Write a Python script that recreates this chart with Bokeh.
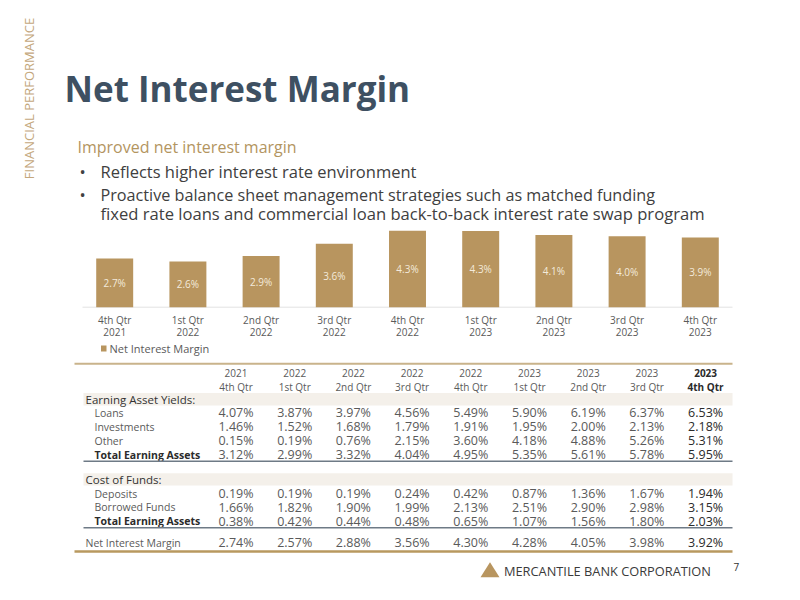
import math
from bokeh.plotting import figure
from bokeh.models import Range1d
from bokeh.embed import file_html
from bokeh.resources import INLINE
from bokeh.core.properties import value

# ---------------- data ----------------
quarters = ["4th Qtr", "1st Qtr", "2nd Qtr", "3rd Qtr", "4th Qtr", "1st Qtr", "2nd Qtr", "3rd Qtr", "4th Qtr"]
years = ["2021", "2022", "2022", "2022", "2022", "2023", "2023", "2023", "2023"]
nim = [2.74, 2.57, 2.88, 3.56, 4.30, 4.28, 4.05, 3.98, 3.92]
nim_labels = ["2.7%", "2.6%", "2.9%", "3.6%", "4.3%", "4.3%", "4.1%", "4.0%", "3.9%"]

loans = [4.07, 3.87, 3.97, 4.56, 5.49, 5.90, 6.19, 6.37, 6.53]
investments = [1.46, 1.52, 1.68, 1.79, 1.91, 1.95, 2.00, 2.13, 2.18]
other = [0.15, 0.19, 0.76, 2.15, 3.60, 4.18, 4.88, 5.26, 5.31]
total_yield = [3.12, 2.99, 3.32, 4.04, 4.95, 5.35, 5.61, 5.78, 5.95]
deposits = [0.19, 0.19, 0.19, 0.24, 0.42, 0.87, 1.36, 1.67, 1.94]
borrowed = [1.66, 1.82, 1.90, 1.99, 2.13, 2.51, 2.90, 2.98, 3.15]
total_cost = [0.38, 0.42, 0.44, 0.48, 0.65, 1.07, 1.56, 1.80, 2.03]
nim_table = [2.74, 2.57, 2.88, 3.56, 4.30, 4.28, 4.05, 3.98, 3.92]

# ---------------- styles ----------------
FONT = value("Open Sans")
GOLD = "#B8955F"
TITLE = "#3E5062"
DARK = "#2b2b2b"
GRAY = "#5a5a5a"

W, H = 784, 584
OX, OY = 0, 0
p = figure(width=W, height=H, x_range=Range1d(OX, OX + W), y_range=Range1d(OY + H, OY),
           output_backend="svg", toolbar_location=None, min_border=0,
           x_axis_location=None, y_axis_location=None)
p.outline_line_color = None
p.grid.visible = False
p.title.visible = False
p.background_fill_color = "white"
p.border_fill_color = "white"

# bar chart scales: index -> x, value -> y
bx0, bstep = 114.2, 73.2
p.extra_x_ranges["bx"] = Range1d(-(bx0 - OX) / bstep, (OX + W - bx0) / bstep)
by0, bscale = 306.7, 17.8
p.extra_y_ranges["by"] = Range1d(-(OY + H - by0) / bscale, (by0 - OY) / bscale)
# table columns: index -> x
tx0, tstep = 235.5, 58.7
p.extra_x_ranges["tx"] = Range1d(-(tx0 - OX) / tstep, (OX + W - tx0) / tstep)


def txt(x, y, s, size, color, align="left", baseline="middle", style="normal",
        angle=0.0, xr="default", yr="default"):
    if not isinstance(x, list):
        x, y, s = [x], [y], [s]
    p.text(x=x, y=y, text=s, text_font=FONT, text_font_size=size, text_color=color,
           text_align=align, text_baseline=baseline, text_font_style=style, angle=angle,
           x_range_name=xr, y_range_name=yr)


# ---------------- header ----------------
txt(28, 98, "FINANCIAL PERFORMANCE", "13px", "#C4A77C", align="center", angle=math.pi / 2)
txt(64, 88, "Net Interest Margin", "35px", TITLE, style="bold")
txt(77, 146, "Improved net interest margin", "16px", "#B3955F")
BUL = "16.5px"
txt(79, 171, "•", BUL, "#404040")
txt(100, 171, "Reflects higher interest rate environment", BUL, "#404040")
txt(79, 194, "•", BUL, "#404040")
txt(100, 194, "Proactive balance sheet management strategies such as matched funding", "16.2px", "#404040")
txt(100, 212.5, "fixed rate loans and commercial loan back-to-back interest rate swap program", "16.6px", "#404040")

# ---------------- bar chart ----------------
idx = list(range(len(nim)))
p.segment(x0=[82], y0=[by0], x1=[732], y1=[by0], line_color="#e3e3e3", line_width=1)
p.vbar(x=idx, top=nim, bottom=0, width=0.505, fill_color=GOLD, line_color=None,
       x_range_name="bx", y_range_name="by")
txt(idx, [v / 2 for v in nim], nim_labels, "10px", "#F3EADB", align="center",
    xr="bx", yr="by")
txt(idx, [319.5] * len(idx), quarters, "10px", GRAY, align="center", xr="bx")
txt(idx, [331] * len(idx), years, "10px", GRAY, align="center", xr="bx")
p.quad(left=[100.5], right=[106], top=[345], bottom=[351], fill_color=GOLD, line_color=None)
txt(109, 348, "Net Interest Margin", "11px", GRAY)

# ---------------- table ----------------
L, R = 74, 732
p.segment(x0=[L], y0=[363.3], x1=[R], y1=[363.3], line_color="#C9B38B", line_width=2)
p.quad(left=[83, 83], right=[R, R], top=[392.5, 472.7], bottom=[405, 485],
       fill_color="#F4F0EA", line_color=None)

cols = list(range(len(years)))
last = cols[-1]
txt(cols[:-1], [372.5] * last, years[:-1], "10px", GRAY, align="center", xr="tx")
txt(cols[:-1], [386] * last, quarters[:-1], "10px", GRAY, align="center", xr="tx")
txt([last], [372.5], [years[-1]], "10px", DARK, align="center", style="bold", xr="tx")
txt([last], [386], [quarters[-1]], "10px", DARK, align="center", style="bold", xr="tx")

txt(85, 399, "Earning Asset Yields:", "11.5px", "#333333")
txt(85, 479, "Cost of Funds:", "11.5px", "#333333")

rows = [
    ("Loans", loans, 412, False, 94),
    ("Investments", investments, 426, False, 94),
    ("Other", other, 440.3, False, 94),
    ("Total Earning Assets", total_yield, 454.3, True, 94),
    ("Deposits", deposits, 493.3, False, 94),
    ("Borrowed  Funds", borrowed, 506.7, False, 94),
    ("Total Earning Assets", total_cost, 520.5, True, 94),
    ("Net Interest  Margin", nim_table, 542, False, 85),
]
for label, vals, y, bold, lx in rows:
    txt(lx, y, label, "10.5px", DARK if bold else GRAY, style="bold" if bold else "normal")
    strs = [f"{v:.2f}%" for v in vals]
    txt(cols[:-1], [y] * last, strs[:-1], "12.5px", GRAY, align="center", xr="tx")
    txt([last], [y], [strs[-1]], "12.5px", DARK, align="center", xr="tx")

p.segment(x0=[83, 83], y0=[460.7, 527.3], x1=[R, R], y1=[460.7, 527.3],
          line_color="#6E7A86", line_width=1.5)
p.segment(x0=[L], y0=[551], x1=[R], y1=[551], line_color="#B8995F", line_width=2.5)

# ---------------- footer ----------------
p.patch(x=[480, 489.5, 499], y=[576.7, 561.7, 576.7], fill_color=GOLD, line_color=None)
txt(503.5, 570.7, "MERCANTILE BANK CORPORATION", "12.8px", "#3a3a3a")
txt(733, 566.5, "7", "10px", "#333333")

open("out.html", "w").write(file_html(p, INLINE))
